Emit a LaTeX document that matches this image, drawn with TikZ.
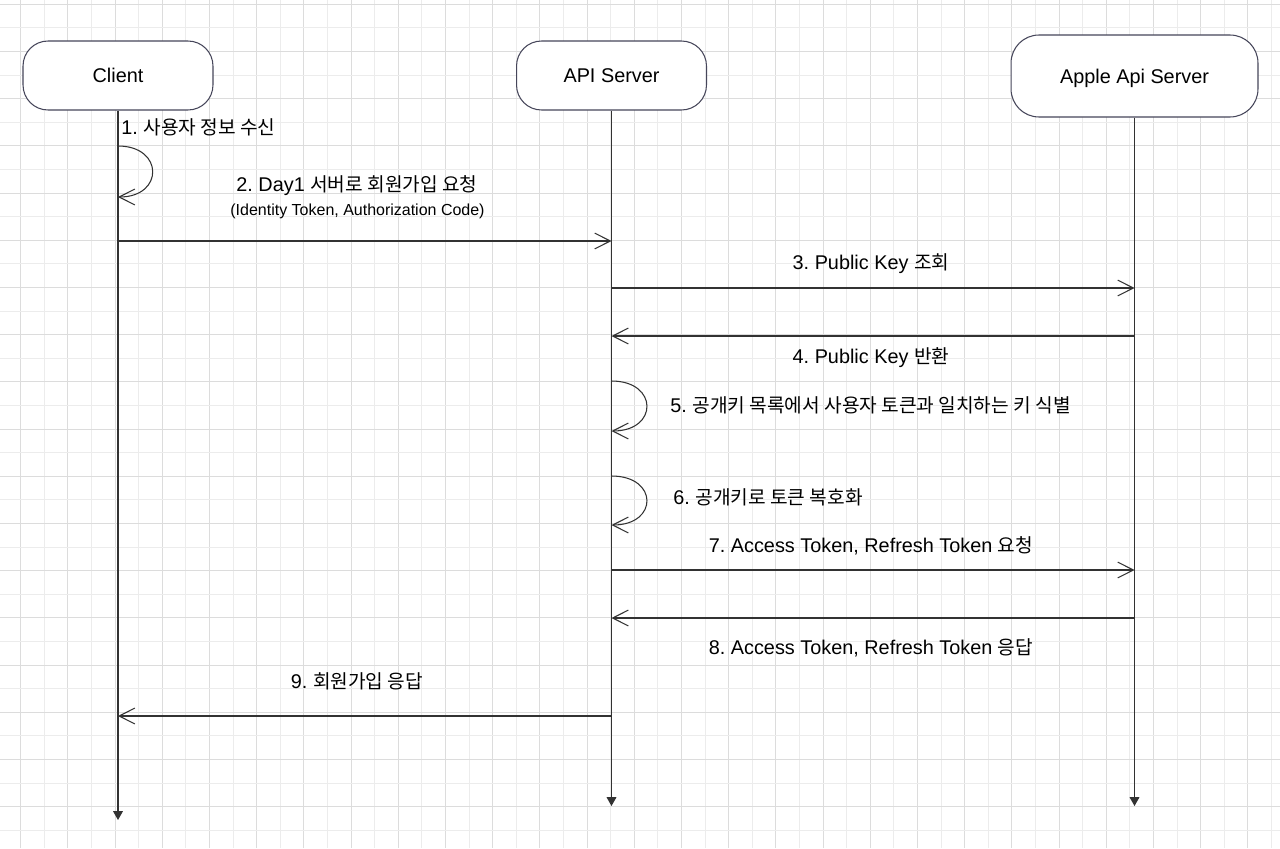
\documentclass[tikz,border=0pt]{standalone}
\usepackage{fontspec}
\setmainfont{Liberation Sans}
\newfontfamily\kr[Scale=0.965]{Noto Sans CJK KR}
\usetikzlibrary{arrows.meta}
\frenchspacing

\definecolor{gridlight}{RGB}{236,236,236}
\definecolor{griddark}{RGB}{220,220,220}
\definecolor{boxline}{RGB}{70,70,90}
\definecolor{msgline}{RGB}{50,50,50}

\tikzset{
  actor/.style={draw=boxline, fill=white, line width=0.6pt, rounded corners=0.5cm,
    minimum width=3.8cm, minimum height=1.38cm, text height=8pt, text depth=0pt,
    font=\fontsize{11.3}{13}\selectfont},
  lifeline/.style={draw=msgline, line width=0.6pt, -{Triangle[length=5pt,width=5.5pt]}},
  msg/.style={draw=msgline, line width=0.6pt, -{Straight Barb[length=8.9pt,width=9pt]}},
  lbl/.style={inner sep=0pt, font=\fontsize{11.3}{13}\selectfont},
  sublbl/.style={inner sep=0pt, font=\fontsize{9.1}{11}\selectfont},
}

\begin{document}
\begin{tikzpicture}[x=0.02cm, y=-0.02cm]
    \useasboundingbox (0,0) rectangle (1280,848);
    \fill[white] (0,0) rectangle (1280,848);

    % background grid
    \foreach \k in {0,...,26} {
        \draw[gridlight, line width=0.55pt] ({44.3+47.2*\k},0) -- ++(0,848);
        \draw[griddark, line width=0.55pt] ({20.7+47.2*\k},0) -- ++(0,848);
    }
    \foreach \k in {0,...,17} {
        \draw[gridlight, line width=0.55pt] (0,{27.8+47.2*\k}) -- ++(1280,0);
        \draw[griddark, line width=0.55pt] (0,{4.2+47.2*\k}) -- ++(1280,0);
    }

    % participants
    \node[actor] (client) at (118,75.5) {Client};
    \node[actor] (api) at (611.5,75.5) {API Server};
    \node[actor, rounded corners=0.56cm, minimum width=4.94cm, minimum height=1.64cm] (apple) at (1134.5,76) {Apple Api Server};

    \draw[lifeline] (client.south) -- (client |- 0,820);
    \draw[lifeline] (api.south) -- (api |- 0,806);
    \draw[lifeline] (apple.south) -- (apple |- 0,806);

    % 1
    \node[lbl, anchor=west] (m1) at (121,127) {1. {\kr 사용자 정보 수신}};
    \draw[msg] (client |- 0,146) .. controls +(46,0) and +(46,0) .. (client |- 0,197);

    % 2
    \node[lbl] (m2) at (357,186) {2. Day1 {\kr 서버로 회원가입 요청}};
    \node[sublbl] (m2b) at (357.5,211) {(Identity Token, Authorization Code)};
    \draw[msg] (client |- 0,241) -- (api |- 0,241);

    % 3, 4
    \node[lbl] (m3) at (871,264) {3. Public Key {\kr 조회}};
    \draw[msg] (api |- 0,288) -- (apple |- 0,288);
    \draw[msg] (apple |- 0,336) -- (api |- 0,336);
    \node[lbl] (m4) at (871,358) {4. Public Key {\kr 반환}};

    % 5, 6
    \draw[msg] (api |- 0,381) .. controls +(47,0) and +(47,0) .. (api |- 0,431);
    \node[lbl, anchor=west] (m5) at (670,405) {5. {\kr 공개키 목록에서 사용자 토큰과 일치하는 키 식별}};
    \draw[msg] (api |- 0,476) .. controls +(47,0) and +(47,0) .. (api |- 0,525);
    \node[lbl, anchor=west] (m6) at (673,497) {6. {\kr 공개키로 토큰 복호화}};

    % 7, 8
    \node[lbl] (m7) at (871,546) {7. Access Token, Refresh Token {\kr 요청}};
    \draw[msg] (api |- 0,570) -- (apple |- 0,570);
    \draw[msg] (apple |- 0,618) -- (api |- 0,618);
    \node[lbl] (m8) at (871,648) {8. Access Token, Refresh Token {\kr 응답}};

    % 9
    \node[lbl] (m9) at (357,681) {9. {\kr 회원가입 응답}};
    \draw[msg] (api |- 0,716) -- (client |- 0,716);
\end{tikzpicture}
\end{document}
